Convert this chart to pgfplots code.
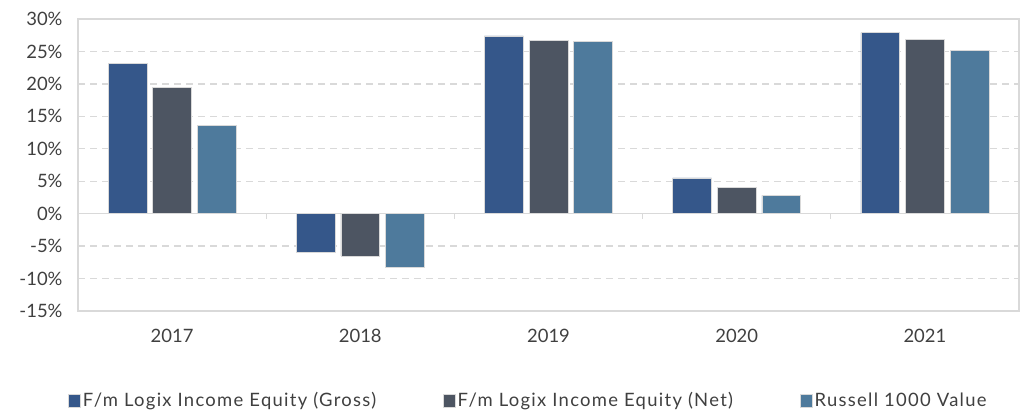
\documentclass[border=0pt]{standalone}
\usepackage{pgfplots}
\pgfplotsset{compat=1.18}
\usepackage{fontspec}
\setmainfont{Lato}
\newfontfamily\legfont[LetterSpace=7]{Lato}
\definecolor{cgross}{HTML}{35578A}
\definecolor{cnet}{HTML}{4D5562}
\definecolor{crus}{HTML}{4E7A9C}
\definecolor{cgrid}{HTML}{D9D9D9}
\definecolor{ctext}{HTML}{404040}
\begin{document}
\begin{tikzpicture}
\path[use as bounding box] (-78bp,-99bp) rectangle (949bp,311bp);
\begin{axis}[
  at={(0,0)}, anchor=south west,
  scale only axis, width=941bp, height=292bp,
  xmin=-0.5, xmax=4.5, ymin=-15, ymax=30,
  ybar, bar width=0.207,
  xtick={0,1,2,3,4}, xticklabels={2017,2018,2019,2020,2021},
  ytick={-15,-10,...,30},
  yticklabel={\pgfmathprintnumber[assume math mode=true]{\tick}\%},
  major tick length=0pt,
  axis line style={cgrid, line width=1.3pt},
  ymajorgrids, grid style={cgrid, line width=1.4pt, dash pattern=on 7bp off 5bp},
  tick label style={font=\fontsize{18.5}{22}\selectfont, text=ctext},
  xticklabel style={yshift=-15bp},
  yticklabel style={xshift=-12bp},
  legend style={at={(0.5,-0.265)}, xshift=-20bp, anchor=north, draw=none, legend columns=3,
    font=\legfont\fontsize{18.5}{22}\selectfont, text=ctext,
    /tikz/every even column/.style={column sep=65bp}},
  legend image code/.code={\fill[#1] (0bp,-6.5bp) rectangle (12bp,6.5bp);},
  clip=false,
]
\addplot[forget plot, sharp plot, cgrid, line width=1.3pt, no marks] coordinates {(0.5,0) (0.5,-0.8)};
\addplot[forget plot, sharp plot, cgrid, line width=1.3pt, no marks] coordinates {(1.5,0) (1.5,-0.8)};
\addplot[forget plot, sharp plot, cgrid, line width=1.3pt, no marks] coordinates {(2.5,0) (2.5,-0.8)};
\addplot[forget plot, sharp plot, cgrid, line width=1.3pt, no marks] coordinates {(3.5,0) (3.5,-0.8)};
\addplot[forget plot, sharp plot, cgrid, line width=1.3pt, no marks] coordinates {(-0.5,0) (4.5,0)};
\addplot[fill=cgross, draw=white!85!black, line width=0.6pt, bar shift=-0.237] coordinates {(0,23.1) (1,-5.9) (2,27.4) (3,5.5) (4,27.9)};
\addplot[fill=cnet, draw=white!85!black, line width=0.6pt, bar shift=0] coordinates {(0,19.5) (1,-6.5) (2,26.7) (3,4.1) (4,26.9)};
\addplot[fill=crus, draw=white!85!black, line width=0.6pt, bar shift=0.237] coordinates {(0,13.66) (1,-8.27) (2,26.54) (3,2.80) (4,25.16)};
\legend{F/m Logix Income Equity (Gross), F/m Logix Income Equity (Net), Russell 1000 Value}
\end{axis}
\end{tikzpicture}
\end{document}
